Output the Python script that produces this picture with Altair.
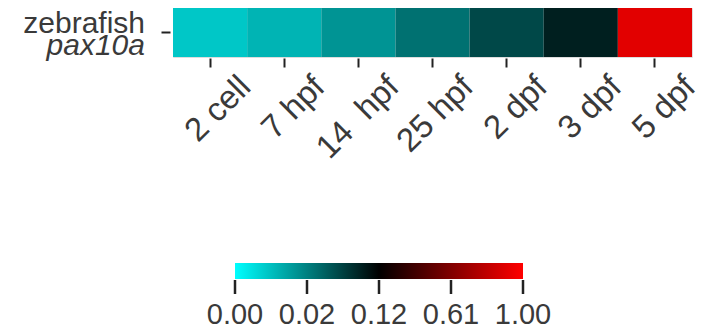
import altair as alt
import pandas as pd

# ---- data ----
stages = ["2 cell", "7 hpf", "14\u00a0 hpf", "25 hpf", "2 dpf", "3 dpf", "5 dpf"]
values = [0.0088, 0.0118, 0.0168, 0.032, 0.064, 0.096, 0.91]
species_name = "zebrafish"
gene_name = "pax10a"

tick_values = [0.00, 0.02, 0.12, 0.61, 1.00]
stop_colors = ["#00FFFF", "#008080", "#000000", "#800000", "#FF0000"]

TXT = "#3a3a3a"
TCK = "#222222"
FONT = "Liberation Sans"

df = pd.DataFrame({"stage": stages, "value": values, "gene": [gene_name] * len(stages)})
lab_df = pd.DataFrame({"species": [species_name], "gene": [gene_name]})
cb_df = pd.DataFrame({"lo": [tick_values[0]], "hi": [tick_values[-1]]})
tick_df = pd.DataFrame({"v": tick_values})

color_scale = alt.Scale(type="linear", domain=tick_values, range=stop_colors, interpolate="rgb")

cells = alt.Chart(df).mark_rect().encode(
    x=alt.X(
        "stage:N",
        sort=stages,
        scale=alt.Scale(paddingInner=0, paddingOuter=0),
        axis=alt.Axis(
            title=None, labelAngle=-45, labelAlign="right", labelBaseline="top",
            labelFontSize=33, labelColor=TXT, labelFont=FONT,
            tickSize=9, tickWidth=2, tickColor=TCK, domain=False, offset=1,
            labelPadding=3, labelOffset=24,
        ),
    ),
    y=alt.Y(
        "gene:N",
        axis=alt.Axis(title=None, labels=False, tickSize=9, tickWidth=2, tickColor=TCK,
                      domain=False, offset=3),
    ),
    color=alt.Color("value:Q", scale=color_scale, legend=None),
)

species_text = alt.Chart(lab_df).mark_text(
    align="right", baseline="alphabetic", fontSize=30, color=TXT, font=FONT, dy=0
).encode(x=alt.value(-28), y=alt.Y("gene:N"), text="species:N")

gene_text = alt.Chart(lab_df).mark_text(
    align="right", baseline="alphabetic", fontSize=30, color=TXT, font=FONT,
    fontStyle="italic", dy=22
).encode(x=alt.value(-28), y=alt.Y("gene:N"), text="gene:N")

# ---- colour bar (own x scale: tick values evenly spaced) ----
n = len(stop_colors)
grad = alt.Gradient(
    gradient="linear",
    stops=[alt.GradientStop(offset=i / (n - 1), color=c) for i, c in enumerate(stop_colors)],
    x1=0, x2=1, y1=0, y2=0,
)
cb_x = alt.Scale(domain=tick_values, range=[62, 134, 206, 278, 350], padding=0, zero=False, nice=False)

cb_ticks = alt.Chart(tick_df).mark_tick(
    orient="vertical", size=14, thickness=2.5, color=TCK, opacity=1, filled=True
).encode(
    x=alt.X("v:Q", scale=cb_x, axis=None),
    y=alt.value(279),
)
cb_bar = alt.Chart(cb_df).mark_rect(color=grad).encode(
    x=alt.X("lo:Q", scale=cb_x, axis=None),
    x2="hi:Q",
    y=alt.value(255),
    y2=alt.value(271),
)
cb_labels = alt.Chart(tick_df).mark_text(
    baseline="top", align="center", fontSize=29, color=TXT, font=FONT, dy=0
).encode(
    x=alt.X("v:Q", scale=cb_x, axis=None),
    y=alt.value(293),
    text=alt.Text("v:Q", format=".2f"),
)

chart = alt.layer(
    cells, species_text, gene_text, cb_ticks, cb_bar, cb_labels
).resolve_scale(x="independent").properties(
    width=519, height=49,
    padding={"left": 15, "top": 0, "right": -6, "bottom": 0},
).configure_view(stroke="transparent", strokeWidth=0).configure(font=FONT)

chart.save("out.html", embed_options={"renderer": "svg", "actions": False})
